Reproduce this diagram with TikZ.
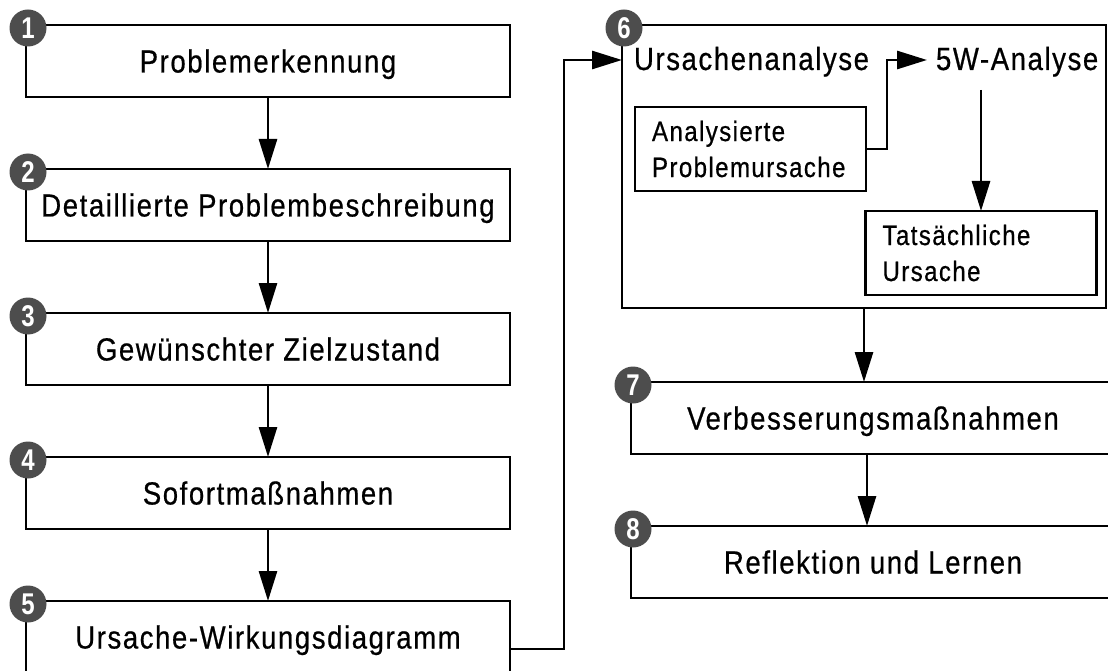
\documentclass[tikz,border=0pt]{standalone}
\usepackage{fontspec}
\setmainfont{Liberation Sans}[FakeStretch=0.86,LetterSpace=5,FakeBold=0.6]
\newfontfamily\numfont{Liberation Sans}[FakeStretch=0.8]
\usetikzlibrary{arrows.meta,calc}
\definecolor{badgegray}{HTML}{4D4D4D}
\begin{document}
\begin{tikzpicture}[x=1pt,y=1pt,
  lw/.style={line width=2.8pt},
  box/.style={draw,lw,minimum width=484pt,minimum height=72pt,inner sep=0pt,outer sep=0pt,text height=23pt,text depth=0pt,font=\fontsize{32}{38}\selectfont},
  frame/.style={draw,lw,minimum width=484pt,minimum height=283pt,inner sep=0pt,outer sep=0pt},
  ibox/.style={draw,lw,minimum width=231pt,minimum height=84pt,inner xsep=17pt,inner ysep=0pt,outer sep=0pt,text width=197pt,align=left,font=\fontsize{28}{36}\selectfont},
  title/.style={inner sep=0pt,outer sep=0pt,anchor=base west,font=\fontsize{32}{38}\selectfont},
  badge/.style={circle,fill=badgegray,minimum size=37pt,inner sep=0pt,text=white,font=\numfont\bfseries\fontsize{30}{30}\selectfont},
  arr/.style={lw,-{Triangle[length=30pt,width=18pt]}}]
\clip (0,0) rectangle (1108,-671);
\node[box] (b1) at (268,-61) {Problemerkennung};
\node[box] (b2) at (268,-205) {Detaillierte Problembeschreibung};
\node[box] (b3) at (268,-349) {Gewünschter Zielzustand};
\node[box] (b4) at (268,-493) {Sofortmaßnahmen};
\node[box] (b5) at (268,-637) {Ursache-Wirkungsdiagramm};
\node[frame] (b6) at (864,-166.5) {};
\node[title] (ua) at (634,-70) {Ursachenanalyse};
\node[title,inner xsep=9pt] (w5) at (927,-70) {5W-Analyse};
\node[ibox] (pa) at (750.5,-149) {Analysierte\\\mbox{Problemursache}};
\node[ibox] (ta) at (981,-253) {Tatsächliche\\Ursache};
\node[box] (b7) at (873,-418) {Verbesserungsmaßnahmen};
\node[box] (b8) at (873,-562) {Reflektion und Lernen};
\coordinate (in6) at ($(b6.north west)+(0,-35)$);
\foreach \a/\b in {b1/b2,b2/b3,b3/b4,b4/b5} \draw[arr] (\a.south) -- (\b.north);
\draw[arr] ([yshift=-12pt]b5.east) -| ($(in6)+(-58,0)$) -- (in6);
\draw[arr] (pa.east) -- ++(21,0) |- (w5.west |- in6);
\draw[arr] ($(w5.base -| ta.north)+(0,-20)$) -- (ta.north);
\draw[arr] (b6.south) -- (b6.south |- b7.north);
\draw[arr] ([xshift=-6pt]b7.south) -- ([xshift=-6pt]b8.north);
\foreach \b/\n in {b1/1,b2/2,b3/3,b4/4,b5/5,b6/6,b7/7,b8/8}
  \node[badge] (c\n) at ([shift={(2pt,-3pt)}]\b.north west) {\n};
\end{tikzpicture}
\end{document}
